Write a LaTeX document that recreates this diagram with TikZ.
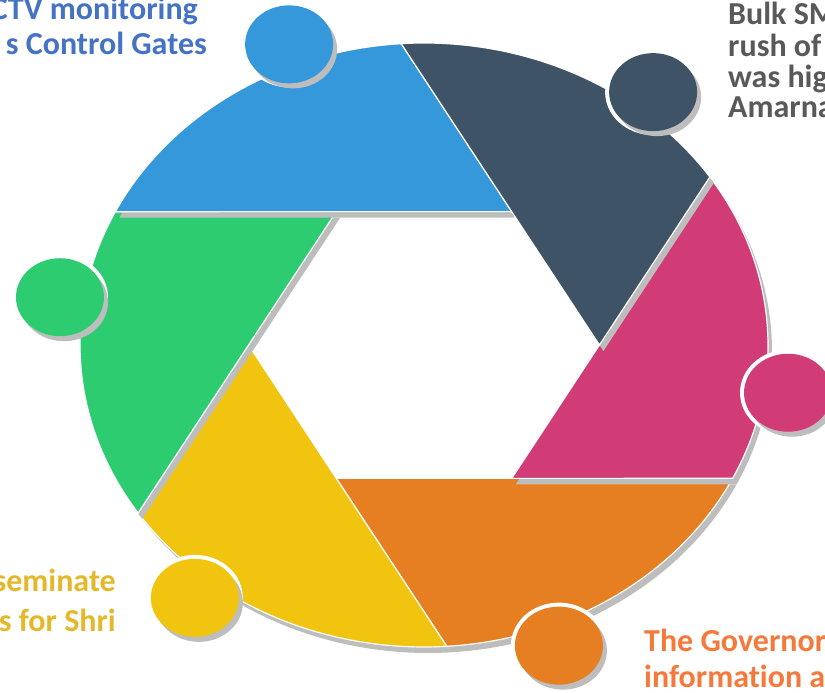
\documentclass[tikz,border=0pt]{standalone}
\usepackage{fontspec}
\setmainfont{Carlito}[Ligatures=NoCommon]

\definecolor{blueseg}{HTML}{3498DB}
\definecolor{greenseg}{HTML}{2ECC71}
\definecolor{yellowseg}{HTML}{F1C40F}
\definecolor{orangeseg}{HTML}{E67E22}
\definecolor{pinkseg}{HTML}{D13B76}
\definecolor{darkseg}{HTML}{3E5366}
\definecolor{shadowgray}{HTML}{BDBDBD}
\definecolor{bluetext}{HTML}{4472C4}
\definecolor{graytext}{HTML}{595959}
\definecolor{goldtext}{HTML}{E5B72B}
\definecolor{orangetext}{HTML}{F5793B}

\begin{document}
\begin{tikzpicture}[x=1pt, y=1pt]
    \tikzstyle{every node}=[inner sep=0pt, font=\fontsize{32}{34}\selectfont\bfseries];
    \tikzstyle{seg}=[draw=white, line width=1.2pt];
    \tikzstyle{aperture}=[shift={(424,348)}, xscale=344, yscale=302];

    \clip (0,0) rectangle (825,693);

    % six blades, each with its drop shadow and its head
    \foreach \a/\col in {180/orangeseg, 240/pinkseg, 120/yellowseg, 60/greenseg, 0/blueseg, 300/darkseg}
    {
        \begin{scope}[shift={(4,-6)}, aperture]
            \fill[shadowgray] (\a+60:0.51) -- (\a+93.8:1)
                arc[start angle=\a+93.8, delta angle=60, radius=1] -- cycle;
        \end{scope}
        \begin{scope}[aperture]
            \filldraw[seg, fill=\col] (\a+60:0.51) -- (\a+93.8:1)
                arc[start angle=\a+93.8, delta angle=60, radius=1] -- cycle;
            \coordinate (h\a) at (\a+111.5:1.07);
        \end{scope}
        \fill[white] (h\a) ellipse[x radius=48, y radius=43];
        \fill[shadowgray] ([shift={(4,-5)}]h\a) ellipse[x radius=44, y radius=39];
        \fill[\col] (h\a) ellipse[x radius=44, y radius=39];
    }

    \node at (198, 673) (cctv1) [anchor=base east, text=bluetext] {CTV monitoring};
    \node at (207, 638) (cctv2) [anchor=base east, text=bluetext] {s Control Gates};

    \node at (728, 668) (sms1) [anchor=base west, text=graytext] {Bulk SM};
    \node at (728, 636) (sms2) [anchor=base west, text=graytext] {rush of};
    \node at (728, 605) (sms3) [anchor=base west, text=graytext] {was hig};
    \node at (728, 575) (sms4) [anchor=base west, text=graytext] {Amarna};

    \node at (116, 101) (info1) [anchor=base east, text=goldtext] {seminate};
    \node at (116, 61) (info2) [anchor=base east, text=goldtext] {s for Shri};

    \node at (644, 41) (gov1) [anchor=base west, text=orangetext] {The Governor};
    \node at (644, 5) (gov2) [anchor=base west, text=orangetext] {information a};
\end{tikzpicture}
\end{document}
